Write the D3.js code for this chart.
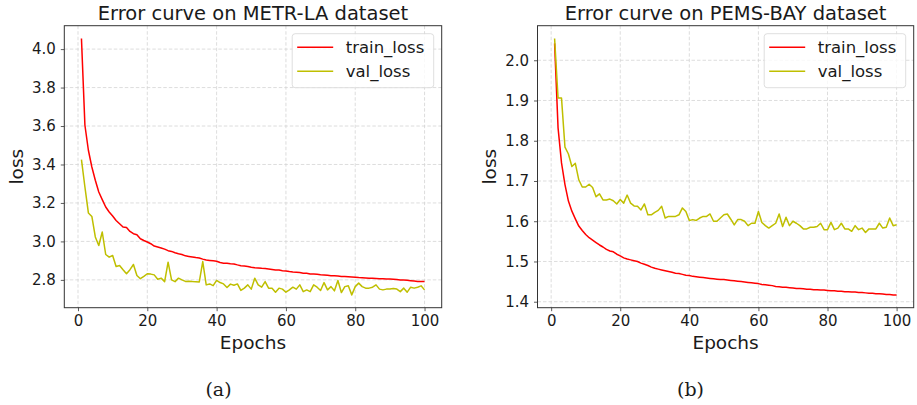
<!DOCTYPE html>
<html>
<head>
<meta charset="utf-8">
<script src="https://cdn.jsdelivr.net/npm/d3@7"></script>
<style>
  body { margin: 0; background: #fff; }
  svg text { font-family: "DejaVu Sans", sans-serif; fill: #1a1a1a; }
</style>
</head>
<body>
<div class="chart-div"></div>
<script>
//--------------------------- Data

var epochs = d3.range(1, 101);

var metrTrain = [
  4.055, 3.604, 3.474, 3.387, 3.318, 3.257, 3.217, 3.179, 3.153, 3.132,
  3.109, 3.092, 3.075, 3.072, 3.052, 3.040, 3.035, 3.014, 3.005, 2.997,
  2.988, 2.976, 2.971, 2.966, 2.960, 2.952, 2.948, 2.941, 2.936, 2.932,
  2.925, 2.922, 2.919, 2.916, 2.914, 2.908, 2.903, 2.901, 2.899, 2.897,
  2.890, 2.887, 2.886, 2.884, 2.883, 2.878, 2.874, 2.872, 2.870, 2.866,
  2.863, 2.862, 2.860, 2.859, 2.857, 2.854, 2.851, 2.851, 2.848, 2.846,
  2.843, 2.841, 2.840, 2.838, 2.835, 2.834, 2.831, 2.830, 2.829, 2.827,
  2.826, 2.824, 2.822, 2.821, 2.820, 2.818, 2.817, 2.816, 2.815, 2.814,
  2.812, 2.811, 2.810, 2.809, 2.808, 2.807, 2.806, 2.806, 2.805, 2.804,
  2.803, 2.802, 2.800, 2.799, 2.798, 2.796, 2.794, 2.792, 2.791, 2.791
];

var metrVal = [
  3.425, 3.283, 3.148, 3.130, 3.023, 2.979, 3.049, 2.932, 2.918, 2.927,
  2.870, 2.875, 2.853, 2.832, 2.853, 2.880, 2.823, 2.806, 2.818, 2.832,
  2.830, 2.826, 2.803, 2.809, 2.791, 2.892, 2.800, 2.791, 2.809, 2.800,
  2.792, 2.793, 2.791, 2.790, 2.789, 2.895, 2.774, 2.779, 2.770, 2.797,
  2.786, 2.779, 2.760, 2.778, 2.772, 2.779, 2.745, 2.757, 2.774, 2.752,
  2.809, 2.774, 2.762, 2.791, 2.757, 2.757, 2.736, 2.757, 2.752, 2.736,
  2.748, 2.762, 2.752, 2.774, 2.739, 2.748, 2.739, 2.774, 2.762, 2.745,
  2.786, 2.748, 2.765, 2.743, 2.797, 2.734, 2.765, 2.769, 2.722, 2.765,
  2.783, 2.765, 2.757, 2.757, 2.762, 2.774, 2.752, 2.748, 2.752, 2.752,
  2.755, 2.752, 2.739, 2.757, 2.736, 2.762, 2.757, 2.762, 2.769, 2.748
];

var pemsTrain = [
  2.042, 1.832, 1.745, 1.691, 1.650, 1.625, 1.606, 1.588, 1.577, 1.567,
  1.559, 1.553, 1.547, 1.541, 1.536, 1.530, 1.526, 1.524, 1.518, 1.514,
  1.509, 1.506, 1.504, 1.502, 1.500, 1.496, 1.493, 1.490, 1.486, 1.483,
  1.481, 1.479, 1.477, 1.475, 1.473, 1.471, 1.470, 1.468, 1.466, 1.465,
  1.463, 1.462, 1.461, 1.460, 1.459, 1.458, 1.457, 1.456, 1.455, 1.455,
  1.454, 1.453, 1.452, 1.451, 1.450, 1.449, 1.448, 1.447, 1.446, 1.445,
  1.443, 1.442, 1.441, 1.440, 1.438, 1.437, 1.436, 1.436, 1.435, 1.434,
  1.433, 1.433, 1.432, 1.431, 1.431, 1.430, 1.430, 1.429, 1.429, 1.428,
  1.427, 1.427, 1.426, 1.426, 1.425, 1.425, 1.424, 1.424, 1.423, 1.423,
  1.422, 1.421, 1.421, 1.420, 1.420, 1.419, 1.418, 1.418, 1.417, 1.417
];

var pemsVal = [
  2.054, 1.906, 1.906, 1.784, 1.767, 1.736, 1.744, 1.703, 1.685, 1.685,
  1.692, 1.684, 1.661, 1.668, 1.653, 1.653, 1.655, 1.651, 1.643, 1.654,
  1.645, 1.665, 1.645, 1.638, 1.637, 1.628, 1.643, 1.616, 1.616, 1.622,
  1.627, 1.637, 1.608, 1.612, 1.612, 1.612, 1.616, 1.633, 1.624, 1.602,
  1.604, 1.602, 1.608, 1.612, 1.612, 1.618, 1.600, 1.600, 1.608, 1.616,
  1.618, 1.605, 1.591, 1.604, 1.604, 1.600, 1.589, 1.595, 1.595, 1.624,
  1.597, 1.589, 1.583, 1.589, 1.595, 1.618, 1.587, 1.610, 1.589, 1.600,
  1.595, 1.589, 1.581, 1.581, 1.585, 1.585, 1.587, 1.595, 1.579, 1.579,
  1.597, 1.579, 1.583, 1.595, 1.581, 1.581, 1.575, 1.589, 1.579, 1.583,
  1.572, 1.581, 1.581, 1.581, 1.595, 1.583, 1.585, 1.608, 1.589, 1.591
];

var epochTicks = [0, 20, 40, 60, 80, 100];
var metrYTicks = [2.8, 3.0, 3.2, 3.4, 3.6, 3.8, 4.0];
var pemsYTicks = [1.4, 1.5, 1.6, 1.7, 1.8, 1.9, 2.0];

var seriesNames = ["train_loss", "val_loss"];
var seriesColors = ["#ff0000", "#bfbf00"];

//--------------------------- SVG definition

var width = 917;
var height = 405;

var svg = d3.select("div.chart-div")
    .append("svg")
    .attr("width", width)
    .attr("height", height);

//--------------------------- One panel

function drawPanel(p) {

    var x = d3.scaleLinear()
        .domain([1 - 0.05 * 99, 100 + 0.05 * 99])
        .range([p.left, p.right]);

    var all = p.train.concat(p.val);
    var lo = d3.min(all), hi = d3.max(all), pad = (hi - lo) * 0.05;
    var y = d3.scaleLinear()
        .domain([lo - pad, hi + pad])
        .range([p.bottom, p.top]);

    var g = svg.append("g");

    // grid
    g.selectAll(".gx").data(epochTicks).enter().append("line")
        .attr("x1", d => x(d)).attr("x2", d => x(d))
        .attr("y1", p.top).attr("y2", p.bottom)
        .style("stroke", "#d4d4d4").style("stroke-width", 0.8)
        .style("stroke-dasharray", "3.5,2");
    g.selectAll(".gy").data(p.yTicks).enter().append("line")
        .attr("x1", p.left).attr("x2", p.right)
        .attr("y1", d => y(d)).attr("y2", d => y(d))
        .style("stroke", "#d4d4d4").style("stroke-width", 0.8)
        .style("stroke-dasharray", "3.5,2");

    // curves
    var line = d3.line()
        .x((d, i) => x(epochs[i]))
        .y(d => y(d));

    [p.train, p.val].forEach(function (s, k) {
        g.append("path")
            .attr("d", line(s))
            .style("fill", "none")
            .style("stroke", seriesColors[k])
            .style("stroke-width", 1.5)
            .style("stroke-linejoin", "round");
    });

    // axes
    var xAxis = d3.axisBottom(x).tickValues(epochTicks)
        .tickSize(3.5).tickPadding(4).tickFormat(d3.format("d"));
    var yAxis = d3.axisLeft(y).tickValues(p.yTicks)
        .tickSize(3.5).tickPadding(5).tickFormat(d3.format(".1f"));

    var gx = g.append("g")
        .attr("transform", "translate(0," + p.bottom + ")")
        .call(xAxis);
    var gy = g.append("g")
        .attr("transform", "translate(" + p.left + ",0)")
        .call(yAxis);

    [gx, gy].forEach(function (a) {
        a.select(".domain").remove();
        a.selectAll(".tick line").style("stroke", "#333").style("stroke-width", 0.8);
        a.selectAll(".tick text")
            .style("font-family", "DejaVu Sans")
            .style("font-size", "15px")
            .style("fill", "#1a1a1a");
    });

    // frame
    g.append("rect")
        .attr("x", p.left).attr("y", p.top)
        .attr("width", p.right - p.left).attr("height", p.bottom - p.top)
        .style("fill", "none").style("stroke", "#333").style("stroke-width", 1);

    var cx = (p.left + p.right) / 2;

    // title
    g.append("text")
        .attr("x", cx).attr("y", 20)
        .attr("text-anchor", "middle")
        .style("font-size", "19.5px")
        .text(p.title);

    // axis labels
    g.append("text")
        .attr("x", cx).attr("y", 349)
        .attr("text-anchor", "middle")
        .style("font-size", "18.5px")
        .text("Epochs");

    g.append("text")
        .attr("transform", "translate(" + (p.left - 41.5) + "," + ((p.top + p.bottom) / 2) + ")rotate(-90)")
        .attr("text-anchor", "middle")
        .style("font-size", "18.5px")
        .text("loss");

    // legend
    var lw = 141.5, lh = 54;
    var lx = p.right - 8 - lw, ly = p.top + 8;
    var leg = g.append("g").attr("transform", "translate(" + lx + "," + ly + ")");
    leg.append("rect")
        .attr("width", lw).attr("height", lh)
        .attr("rx", 3)
        .style("fill", "#fff").style("fill-opacity", 0.8)
        .style("stroke", "#d6d6d6").style("stroke-width", 0.8);

    seriesNames.forEach(function (name, k) {
        var ry = 13.5 + k * 24;
        leg.append("line")
            .attr("x1", 5).attr("x2", 41)
            .attr("y1", ry).attr("y2", ry)
            .style("stroke", seriesColors[k]).style("stroke-width", 1.5);
        leg.append("text")
            .attr("x", 53.5).attr("y", ry + 5.5)
            .style("font-size", "16.5px")
            .text(name);
    });

    // caption
    svg.append("text")
        .attr("x", p.captionX).attr("y", 396)
        .attr("text-anchor", "middle")
        .style("font-family", "DejaVu Serif")
        .style("font-size", "19px")
        .text(p.caption);
}

drawPanel({
    left: 64.3, right: 441.7, top: 25.7, bottom: 307.7,
    train: metrTrain, val: metrVal, yTicks: metrYTicks,
    title: "Error curve on METR-LA dataset", caption: "(a)", captionX: 218.5
});

drawPanel({
    left: 537.5, right: 913.7, top: 25.7, bottom: 307.7,
    train: pemsTrain, val: pemsVal, yTicks: pemsYTicks,
    title: "Error curve on PEMS-BAY dataset", caption: "(b)", captionX: 690.5
});
</script>
</body>
</html>
